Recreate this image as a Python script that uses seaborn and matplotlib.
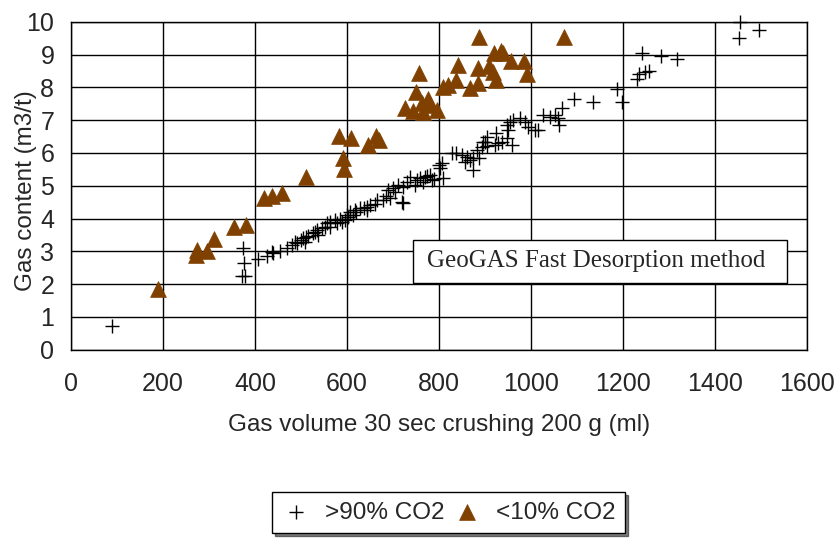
import pandas as pd
import seaborn as sns
import matplotlib.pyplot as plt
from matplotlib.patches import Rectangle

# >90% CO2 samples (crosses)
high_x = [90, 371, 378, 377, 373, 406, 427, 436, 440, 454, 470, 480, 487, 492, 501, 505,
          508, 512, 516, 527, 530, 534, 538, 545, 552, 556, 563, 563, 574, 578, 585, 590,
          596, 600, 603, 607, 614, 617, 620, 628, 636, 643, 643, 650, 660, 665, 679, 685,
          690, 693, 701, 705, 712, 719, 722, 722, 730, 737, 748, 752, 759, 765, 770, 775,
          780, 784, 790, 799, 802, 806, 809, 828, 838, 849, 857, 860, 867, 875, 875, 882,
          886, 893, 896, 900, 904, 904, 922, 925, 929, 936, 947, 947, 951, 954, 958, 962,
          976, 987, 994, 1009, 1016, 1027, 1041, 1052, 1059, 1062, 1067, 1094, 1135, 1187,
          1197, 1230, 1235, 1241, 1248, 1257, 1282, 1317, 1453, 1454, 1496]
high_y = [0.73, 2.25, 2.25, 2.63, 3.09, 2.77, 2.86, 2.97, 2.94, 3.02, 3.10, 3.20, 3.29, 3.26, 3.34, 3.40,
          3.29, 3.45, 3.47, 3.55, 3.60, 3.65, 3.50, 3.70, 3.75, 3.85, 3.90, 3.75, 3.95, 3.85, 4.00, 3.90,
          3.95, 4.10, 4.06, 4.21, 4.11, 4.26, 4.20, 4.31, 4.31, 4.36, 4.26, 4.40, 4.45, 4.56, 4.56, 4.70,
          4.87, 4.62, 4.92, 4.80, 5.02, 4.51, 4.97, 4.46, 5.10, 5.27, 5.02, 5.17, 5.22, 5.10, 5.27, 5.30,
          5.33, 5.17, 5.20, 5.63, 5.53, 5.68, 5.22, 5.99, 5.99, 5.94, 5.73, 5.89, 5.78, 5.48, 5.84, 6.09,
          5.84, 6.19, 6.34, 6.34, 6.50, 6.21, 6.24, 6.60, 6.29, 6.34, 6.44, 6.85, 6.70, 6.95, 6.24, 7.00,
          7.05, 6.95, 6.80, 6.70, 6.70, 7.16, 7.10, 7.16, 7.05, 6.85, 7.36, 7.63, 7.56, 7.95,
          7.56, 8.25, 8.41, 9.04, 8.48, 8.51, 8.95, 8.85, 9.51, 10.0, 9.75]

# <10% CO2 samples (triangles)
low_x = [190, 272, 273, 295, 311, 355, 380, 420, 438, 459, 511, 583, 591, 594, 609,
         645, 663, 670, 726, 743, 750, 756, 764, 766, 777, 780, 796, 808, 820, 838,
         842, 867, 884, 885, 887, 909, 917, 920, 924, 935, 940, 956, 985, 991, 1072]
low_y = [1.86, 2.88, 3.04, 3.02, 3.37, 3.73, 3.79, 4.62, 4.70, 4.79, 5.26, 6.52, 5.83, 5.51, 6.46,
         6.24, 6.52, 6.38, 7.36, 7.29, 7.85, 8.45, 7.51, 7.24, 7.63, 7.46, 7.31, 8.02, 8.07, 8.22,
         8.68, 7.97, 8.58, 8.12, 9.52, 8.65, 8.46, 9.05, 8.22, 9.12, 9.06, 8.80, 8.81, 8.41, 9.54]

high = pd.DataFrame({"volume": high_x, "content": high_y})
low = pd.DataFrame({"volume": low_x, "content": low_y})

sns.set_style("white")
plt.rcParams['font.family'] = ['Liberation Sans', 'DejaVu Sans']

fig = plt.figure(figsize=(8.34, 5.4), dpi=100)
ax = fig.add_axes([0.0851, 0.3524, 0.8825, 0.6074])

sns.scatterplot(x="volume", y="content", data=high, ax=ax, marker="+",
                color="black", s=110, linewidth=1, label=">90% CO2", clip_on=False, zorder=3)
sns.scatterplot(x="volume", y="content", data=low, ax=ax, marker="^",
                color="#804000", edgecolor="#804000", s=130, linewidth=0.5,
                label="<10% CO2", clip_on=False, zorder=4)

ax.set_xlim(0, 1600)
ax.set_ylim(0, 10)
ax.set_xticks(range(0, 1601, 200))
ax.set_yticks(range(0, 11))
ax.grid(True, color="black", linewidth=1)
ax.set_axisbelow(True)
for sp in ax.spines.values():
    sp.set_color("black")
    sp.set_linewidth(1)
ax.tick_params(axis="both", direction="out", length=5, width=1, color="black",
               labelsize=18)
ax.tick_params(axis="x", pad=11)
ax.tick_params(axis="y", pad=7)

ax.set_xlabel("Gas volume 30 sec crushing 200 g (ml)", fontsize=17.5, labelpad=13)
ax.set_ylabel("Gas content (m3/t)", fontsize=17.5)
ax.yaxis.set_label_coords(-0.046, 0.484)

# annotation box
ax.add_patch(Rectangle((743, 2.03), 814, 1.31, facecolor="white", edgecolor="black",
                       linewidth=1, zorder=5))
ax.text(1141, 2.69, "GeoGAS Fast Desorption method", ha="center", va="center",
        fontsize=18, family=["Liberation Serif", "DejaVu Serif"], zorder=6)

ax.get_legend().remove()
handles, labels = ax.get_legend_handles_labels()
leg = fig.legend(handles, labels, loc="upper left", bbox_to_anchor=(272 / 834, 1 - 492 / 540),
                 ncol=2, fontsize=17.5, frameon=True, fancybox=False, edgecolor="black",
                 shadow={"color": "black", "ox": 2, "oy": -2}, columnspacing=0.3,
                 handletextpad=0.6, handlelength=1.2, borderaxespad=0)
leg.get_frame().set_linewidth(1)

fig.savefig("out.png", dpi=100)
